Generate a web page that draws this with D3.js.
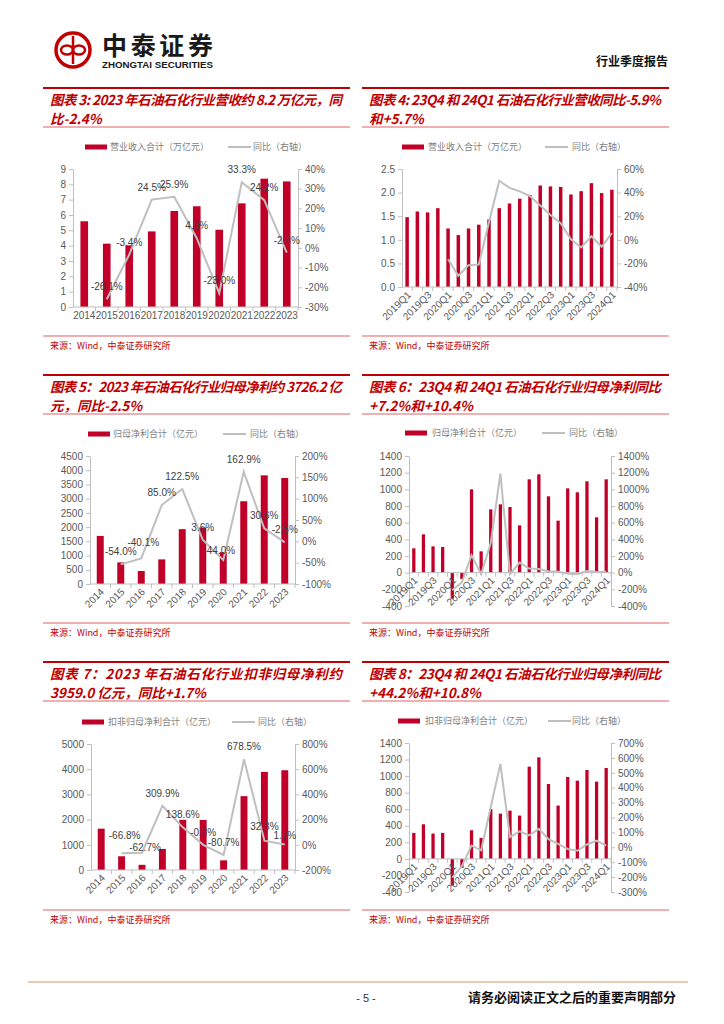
<!DOCTYPE html>
<html>
<head>
<meta charset="utf-8">
<script src="https://cdn.jsdelivr.net/npm/d3@7"></script>
<style>
  body { margin: 0; background: #fff; }
  svg { display: block; }
</style>
</head>
<body>
<div id="page"></div>
<script>
// categories
const years = ["2014", "2015", "2016", "2017", "2018", "2019", "2020", "2021", "2022", "2023"];
const quarters = ["2019Q1", "2019Q2", "2019Q3", "2019Q4", "2020Q1", "2020Q2", "2020Q3", "2020Q4",
  "2021Q1", "2021Q2", "2021Q3", "2021Q4", "2022Q1", "2022Q2", "2022Q3", "2022Q4",
  "2023Q1", "2023Q2", "2023Q3", "2023Q4", "2024Q1"];
const quarterTicks = ["2019Q1", "2019Q3", "2020Q1", "2020Q3", "2021Q1", "2021Q3",
  "2022Q1", "2022Q3", "2023Q1", "2023Q3", "2024Q1"];

// 图表3 营业收入（万亿元）
const revYear = [5.59, 4.13, 4.02, 4.93, 6.26, 6.57, 5.04, 6.76, 8.37, 8.19];
const revYearYoY = [null, -26.1, -3.4, 24.5, 25.9, 4.9, -23.0, 33.3, 24.2, -2.4];
// 图表4 季度营收
const revQ = [1.48, 1.60, 1.58, 1.67, 1.24, 1.10, 1.24, 1.32, 1.43, 1.67, 1.77, 1.87,
  1.95, 2.15, 2.13, 2.12, 1.96, 2.03, 2.20, 1.99, 2.06];
const revQYoY = [null, null, null, null, -16.4, -30.5, -21.5, -21, 15, 50, 44, 41,
  37, 29, 21, 14, 0.5, -6.5, 3, -5.9, 5.7];
// 图表5 归母净利（亿元）
const npYear = [1690, 760, 456, 865, 1928, 1986, 1121, 2909, 3820, 3726];
const npYearYoY = [null, -54.0, -40.1, 85.0, 122.5, 3.6, -44.0, 162.9, 30.6, -2.5];
// 图表6 季度归母净利
const npQ = [292, 460, 316, 308, -312, -76, 1000, 256, 760, 820, 788, 568,
  1120, 1180, 916, 624, 1012, 964, 1096, 664, 1120];
const npQYoY = [null, null, null, null, -212, -115, 210, -16, 356, 1190, -20, 120,
  50, 44, 17, 10, -10, -18, 20, 7.2, 10.4];
// 图表7 扣非归母净利（亿元）
const dnpYear = [1640, 545, 205, 835, 1990, 1985, 383, 2930, 3893, 3959];
const dnpYearYoY = [null, -66.8, -62.7, 309.9, 138.6, -0.3, -80.7, 678.5, 32.8, 1.7];
// 图表8 季度扣非归母净利
const dnpQ = [314, 418, 306, 314, -322, -109, 346, 253, 603, 547, 583, 523,
  1114, 1227, 905, 644, 990, 945, 1074, 933, 1098];
const dnpQYoY = [null, null, null, null, -203, -126, 12, -20, 270, 560, 68, 107,
  80, 124, 55, 23, -11, -23, 19, 44.2, 10.8];

// axis ticks
const ticks3L = [0, 1, 2, 3, 4, 5, 6, 7, 8, 9];
const ticks3R = [-30, -20, -10, 0, 10, 20, 30, 40];
const ticks4L = [0, 0.5, 1.0, 1.5, 2.0, 2.5];
const ticks4R = [-40, -20, 0, 20, 40, 60];
const ticks5L = [0, 500, 1000, 1500, 2000, 2500, 3000, 3500, 4000, 4500];
const ticks5R = [-100, -50, 0, 50, 100, 150, 200];
const ticks6L = [-400, -200, 0, 200, 400, 600, 800, 1000, 1200, 1400];
const ticks6R = [-400, -200, 0, 200, 400, 600, 800, 1000, 1200, 1400];
const ticks7L = [0, 1000, 2000, 3000, 4000, 5000];
const ticks7R = [-200, 0, 200, 400, 600, 800];
const ticks8L = [-400, -200, 0, 200, 400, 600, 800, 1000, 1200, 1400];
const ticks8R = [-300, -200, -100, 0, 100, 200, 300, 400, 500, 600, 700];

const RED = "#C00028";
const TITLE_RED = "#C00000";
const GREY = "#BFBFBF";
const NUM_FONT = "'Liberation Sans', Arial, sans-serif";
const CJK_FONT = "'Noto Sans CJK SC', sans-serif";

const svg = d3.select("#page").append("svg")
  .attr("width", 724)
  .attr("height", 1024);

// ---- header ----
const logo = svg.append("g");
logo.append("circle").attr("cx", 73).attr("cy", 50).attr("r", 17)
  .attr("fill", "none").attr("stroke", TITLE_RED).attr("stroke-width", 3.5);
logo.append("line").attr("x1", 73).attr("x2", 73).attr("y1", 36).attr("y2", 64)
  .attr("stroke", TITLE_RED).attr("stroke-width", 2.5);
[67, 79].forEach(cx => {
  logo.append("ellipse").attr("cx", cx).attr("cy", 50).attr("rx", 6).attr("ry", 4.5)
    .attr("fill", "none").attr("stroke", TITLE_RED).attr("stroke-width", 2.5);
});
svg.append("text").attr("x", 102).attr("y", 55)
  .attr("font-family", CJK_FONT).attr("font-weight", 700).attr("font-size", 25)
  .attr("textLength", 111).attr("fill", "#1a1a1a").text("中泰证券");
svg.append("text").attr("x", 102).attr("y", 68)
  .attr("font-family", NUM_FONT).attr("font-weight", 700).attr("font-size", 8.5)
  .attr("textLength", 111).attr("lengthAdjust", "spacingAndGlyphs")
  .attr("fill", "#1a1a1a").text("ZHONGTAI SECURITIES");
svg.append("text").attr("x", 668).attr("y", 66).attr("text-anchor", "end")
  .attr("font-family", CJK_FONT).attr("font-weight", 700).attr("font-size", 12)
  .attr("fill", "#111").text("行业季度报告");

// ---- panel frames: title lines and source ----
function panel(px, rowTop, srcLine, lines) {
  const w = 307;
  const g = svg.append("g");
  g.append("line").attr("x1", px).attr("x2", px + w).attr("y1", rowTop).attr("y2", rowTop)
    .attr("stroke", TITLE_RED).attr("stroke-width", 1.8);
  g.append("line").attr("x1", px).attr("x2", px + w).attr("y1", rowTop + 39).attr("y2", rowTop + 39)
    .attr("stroke", "#D9393E").attr("stroke-width", 0.8);
  lines.forEach((t, i) => {
    const tx = g.append("text").attr("x", px + 7).attr("y", rowTop + 17 + i * 19)
      .attr("font-family", CJK_FONT).attr("font-weight", 700).attr("font-style", "italic")
      .attr("font-size", 13.5).attr("fill", TITLE_RED).text(t);
    if (i === 0) tx.attr("textLength", 292).attr("lengthAdjust", "spacing");
  });
  g.append("line").attr("x1", px).attr("x2", px + w).attr("y1", srcLine).attr("y2", srcLine)
    .attr("stroke", "#D9393E").attr("stroke-width", 0.8);
  g.append("text").attr("x", px + 7).attr("y", srcLine + 13)
    .attr("font-family", CJK_FONT).attr("font-size", 9).attr("fill", TITLE_RED)
    .text("来源：Wind，中泰证券研究所");
}

panel(43, 88, 336, ["图表 3: 2023 年石油石化行业营收约 8.2 万亿元，同", "比-2.4%"]);
panel(362, 88, 336, ["图表 4: 23Q4 和 24Q1 石油石化行业营收同比-5.9%", "和+5.7%"]);
panel(43, 375, 623, ["图表 5：2023 年石油石化行业归母净利约 3726.2 亿", "元，同比-2.5%"]);
panel(362, 375, 623, ["图表 6：23Q4 和 24Q1 石油石化行业归母净利同比", "+7.2%和+10.4%"]);
panel(43, 662, 910, ["图表 7：2023 年石油石化行业扣非归母净利约", "3959.0 亿元，同比+1.7%"]);
panel(362, 662, 910, ["图表 8：23Q4 和 24Q1 石油石化行业归母净利同比", "+44.2%和+10.8%"]);

// ---- combo chart ----
function styleAxis(sel) {
  sel.select(".domain").attr("stroke", GREY);
  sel.selectAll(".tick line").attr("stroke", GREY);
  sel.selectAll(".tick text").attr("fill", "#595959")
    .attr("font-family", NUM_FONT).attr("font-size", 10);
}

function drawChart(c) {
  const g = svg.append("g");
  const x = d3.scaleBand().domain(c.cats).range([c.x0, c.x1]);
  const yL = d3.scaleLinear().domain(c.left).range([c.yBottom, c.yTop]);
  const yR = d3.scaleLinear().domain(c.right).range([c.yBottom, c.yTop]);
  const bw = x.bandwidth() * 0.34;
  const y0 = yL(Math.max(c.left[0], 0));

  // legend
  g.append("rect").attr("x", c.legend[0]).attr("y", c.legendY - 2.5)
    .attr("width", 22).attr("height", 5).attr("fill", RED);
  g.append("text").attr("x", c.legend[1]).attr("y", c.legendY + 3)
    .attr("font-family", CJK_FONT).attr("font-size", 9).attr("fill", "#7F7F7F")
    .text(c.names[0]);
  g.append("line").attr("x1", c.legend[2]).attr("x2", c.legend[2] + 23)
    .attr("y1", c.legendY).attr("y2", c.legendY)
    .attr("stroke", GREY).attr("stroke-width", 2);
  g.append("text").attr("x", c.legend[3]).attr("y", c.legendY + 3)
    .attr("font-family", CJK_FONT).attr("font-size", 9).attr("fill", "#7F7F7F")
    .text(c.names[1]);

  // bars
  g.append("g").selectAll("rect")
    .data(c.bars)
    .join("rect")
    .attr("x", (d, i) => x(c.cats[i]) + (x.bandwidth() - bw) / 2)
    .attr("y", d => yL(Math.max(0, d)))
    .attr("width", bw)
    .attr("height", d => Math.abs(yL(d) - yL(0)))
    .attr("fill", RED);

  // left and right axes
  g.append("g").attr("transform", `translate(${c.x0},0)`)
    .call(d3.axisLeft(yL).tickValues(c.leftTicks).tickSize(4).tickSizeOuter(0)
      .tickPadding(3).tickFormat(c.leftFmt))
    .call(styleAxis);
  g.append("g").attr("transform", `translate(${c.x1},0)`)
    .call(d3.axisRight(yR).tickValues(c.rightTicks).tickSize(4).tickSizeOuter(0)
      .tickPadding(3).tickFormat(d => d + "%"))
    .call(styleAxis);

  // category axis
  g.append("line").attr("x1", c.x0).attr("x2", c.x1).attr("y1", y0).attr("y2", y0)
    .attr("stroke", GREY);
  g.append("g").selectAll("line")
    .data(c.cats)
    .join("line")
    .attr("x1", d => x(d) + x.step()).attr("x2", d => x(d) + x.step())
    .attr("y1", y0).attr("y2", y0 + 4)
    .attr("stroke", GREY);

  const xa = g.append("g").attr("transform", `translate(0,${y0})`)
    .call(d3.axisBottom(x).tickValues(c.xTicks).tickSize(0).tickPadding(5))
    .call(styleAxis);
  xa.select(".domain").remove();
  if (c.rotate) {
    xa.selectAll(".tick text")
      .attr("text-anchor", "end")
      .attr("x", 0).attr("y", 0).attr("dy", "0.35em")
      .attr("transform", "translate(2,6) rotate(-45)");
  }

  // yoy line
  const pts = c.cats.map((k, i) => ({ k: k, v: c.line[i] }));
  const line = d3.line()
    .defined(d => d.v != null)
    .x(d => x(d.k) + x.bandwidth() / 2)
    .y(d => yR(d.v));
  g.append("path").datum(pts)
    .attr("d", line)
    .attr("fill", "none")
    .attr("stroke", GREY)
    .attr("stroke-width", 2);

  if (c.labels) {
    const shift = c.labelShift || {};
    g.append("g").selectAll("text")
      .data(pts.filter(d => d.v != null))
      .join("text")
      .attr("x", d => x(d.k) + x.bandwidth() / 2 + (shift[d.k] ? shift[d.k][0] : 0))
      .attr("y", d => yR(d.v) + (shift[d.k] ? shift[d.k][1] : -9))
      .attr("text-anchor", "middle")
      .attr("font-family", NUM_FONT).attr("font-size", 10).attr("fill", "#404040")
      .text(d => d.v.toFixed(1) + "%");
  }
}

drawChart({
  cats: years, bars: revYear, line: revYearYoY, labels: true, rotate: false,
  x0: 73, x1: 298, yTop: 169, yBottom: 307,
  left: [0, 9], leftTicks: ticks3L, leftFmt: d => String(d),
  right: [-30, 40], rightTicks: ticks3R, xTicks: years,
  legendY: 147, legend: [85, 110, 228, 253],
  names: ["营业收入合计（万亿元）", "同比（右轴）"]
});

drawChart({
  cats: quarters, bars: revQ, line: revQYoY, labels: false, rotate: true,
  x0: 402, x1: 617, yTop: 169, yBottom: 287,
  left: [0, 2.5], leftTicks: ticks4L, leftFmt: d => d.toFixed(1),
  right: [-40, 60], rightTicks: ticks4R, xTicks: quarterTicks,
  legendY: 147, legend: [402, 428, 545, 572],
  names: ["营业收入合计（万亿元）", "同比（右轴）"]
});

drawChart({
  cats: years, bars: npYear, line: npYearYoY, labels: true, rotate: true,
  x0: 90, x1: 295, yTop: 456, yBottom: 584,
  left: [0, 4500], leftTicks: ticks5L, leftFmt: d => String(d),
  right: [-100, 200], rightTicks: ticks5R, xTicks: years,
  labelShift: { "2015": [0, -9], "2016": [2, -12], "2020": [-4, -6] },
  legendY: 434, legend: [88, 113, 223, 250],
  names: ["归母净利合计（亿元）", "同比（右轴）"]
});

drawChart({
  cats: quarters, bars: npQ, line: npQYoY, labels: false, rotate: true,
  x0: 409, x1: 611, yTop: 456, yBottom: 606,
  left: [-400, 1400], leftTicks: ticks6L, leftFmt: d => String(d),
  right: [-400, 1400], rightTicks: ticks6R, xTicks: quarterTicks,
  legendY: 433, legend: [405, 432, 542, 569],
  names: ["归母净利合计（亿元）", "同比（右轴）"]
});

drawChart({
  cats: years, bars: dnpYear, line: dnpYearYoY, labels: true, rotate: true,
  x0: 91, x1: 295, yTop: 744, yBottom: 870,
  left: [0, 5000], leftTicks: ticks7L, leftFmt: d => String(d),
  right: [-200, 800], rightTicks: ticks7R, xTicks: years,
  labelShift: { "2015": [3, -14], "2016": [3, -2], "2022": [0, -11], "2023": [0, -6] },
  legendY: 722, legend: [82, 108, 232, 258],
  names: ["扣非归母净利合计（亿元）", "同比（右轴）"]
});

drawChart({
  cats: quarters, bars: dnpQ, line: dnpQYoY, labels: false, rotate: true,
  x0: 409, x1: 611, yTop: 743, yBottom: 892,
  left: [-400, 1400], leftTicks: ticks8L, leftFmt: d => String(d),
  right: [-300, 700], rightTicks: ticks8R, xTicks: quarterTicks,
  legendY: 721, legend: [398, 425, 548, 572],
  names: ["扣非归母净利合计（亿元）", "同比（右轴）"]
});

// ---- footer ----
svg.append("line").attr("x1", 28).attr("x2", 688).attr("y1", 982).attr("y2", 982)
  .attr("stroke", "#E6CBB5").attr("stroke-width", 2);
svg.append("text").attr("x", 366).attr("y", 1002).attr("text-anchor", "middle")
  .attr("font-family", NUM_FONT).attr("font-size", 11).attr("fill", "#333")
  .text("- 5 -");
svg.append("text").attr("x", 676).attr("y", 1002).attr("text-anchor", "end")
  .attr("font-family", CJK_FONT).attr("font-weight", 700).attr("font-size", 13)
  .attr("fill", "#111").text("请务必阅读正文之后的重要声明部分");
</script>
</body>
</html>
